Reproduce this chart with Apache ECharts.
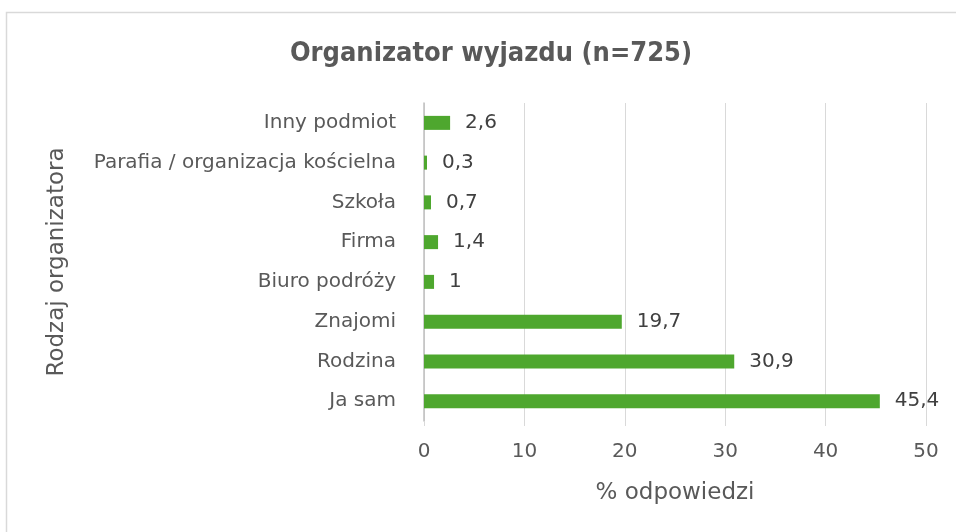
<!DOCTYPE html>
<html><head><meta charset="utf-8">
<script src="https://cdn.jsdelivr.net/npm/echarts@6/dist/echarts.min.js"></script>
<style>html,body{margin:0;padding:0;background:#fff}#c{width:956px;height:532px}</style>
</head><body><div id="c"></div>
<script>
const categories = ["Ja sam", "Rodzina", "Znajomi", "Biuro podróży", "Firma", "Szkoła", "Parafia / organizacja kościelna", "Inny podmiot"];
const values = [45.4, 30.9, 19.7, 1, 1.4, 0.7, 0.3, 2.6];
const xTicks = [0, 10, 20, 30, 40, 50];

const chart = echarts.init(document.getElementById('c'));
chart.setOption({
  animation: false,
  backgroundColor: '#fff',
  graphic: [{type: 'rect', left: 4, top: 10, shape: {width: 1000, height: 600}, style: {fill: 'none', stroke: '#d9d9d9', lineWidth: 1.5}, silent: true, z: -1}],
  title: {
    text: 'Organizator wyjazdu (n=725)', left: 486, textAlign: 'center', top: 35,
    textStyle: {fontFamily: "'DejaVu Sans Condensed', Roboto", fontWeight: 'bold', fontSize: 27, color: '#595959'}
  },
  grid: {left: 424, right: 30, top: 103, bottom: 111, containLabel: false},
  xAxis: {
    type: 'value', min: xTicks[0], max: xTicks[xTicks.length - 1], interval: 10,
    name: '% odpowiedzi', nameLocation: 'middle', nameGap: 61,
    nameTextStyle: {fontFamily: 'DejaVu Sans', fontSize: 23, color: '#595959'},
    axisLine: {show: false},
    axisTick: {show: true, length: 5, lineStyle: {color: '#d9d9d9'}},
    axisLabel: {fontFamily: 'DejaVu Sans', fontSize: 20, color: '#595959', margin: 21},
    splitLine: {show: true, lineStyle: {color: '#d9d9d9', width: 1}}
  },
  yAxis: {
    type: 'category', data: categories,
    name: 'Rodzaj organizatora', nameLocation: 'middle', nameGap: 355, nameRotate: 90,
    nameTextStyle: {fontFamily: 'DejaVu Sans', fontSize: 23, color: '#595959'},
    axisLine: {show: true, lineStyle: {color: '#bfbfbf', width: 1.5}},
    axisTick: {show: false},
    axisLabel: {fontFamily: 'DejaVu Sans', fontSize: 20, color: '#595959', margin: 28}
  },
  series: [{
    type: 'bar', data: values, barWidth: 14,
    itemStyle: {color: '#4ea72e'},
    label: {show: true, position: 'right', distance: 15, fontFamily: 'DejaVu Sans', fontSize: 20, color: '#404040',
      formatter: p => String(p.value).replace('.', ',')}
  }]
});
</script></body></html>
